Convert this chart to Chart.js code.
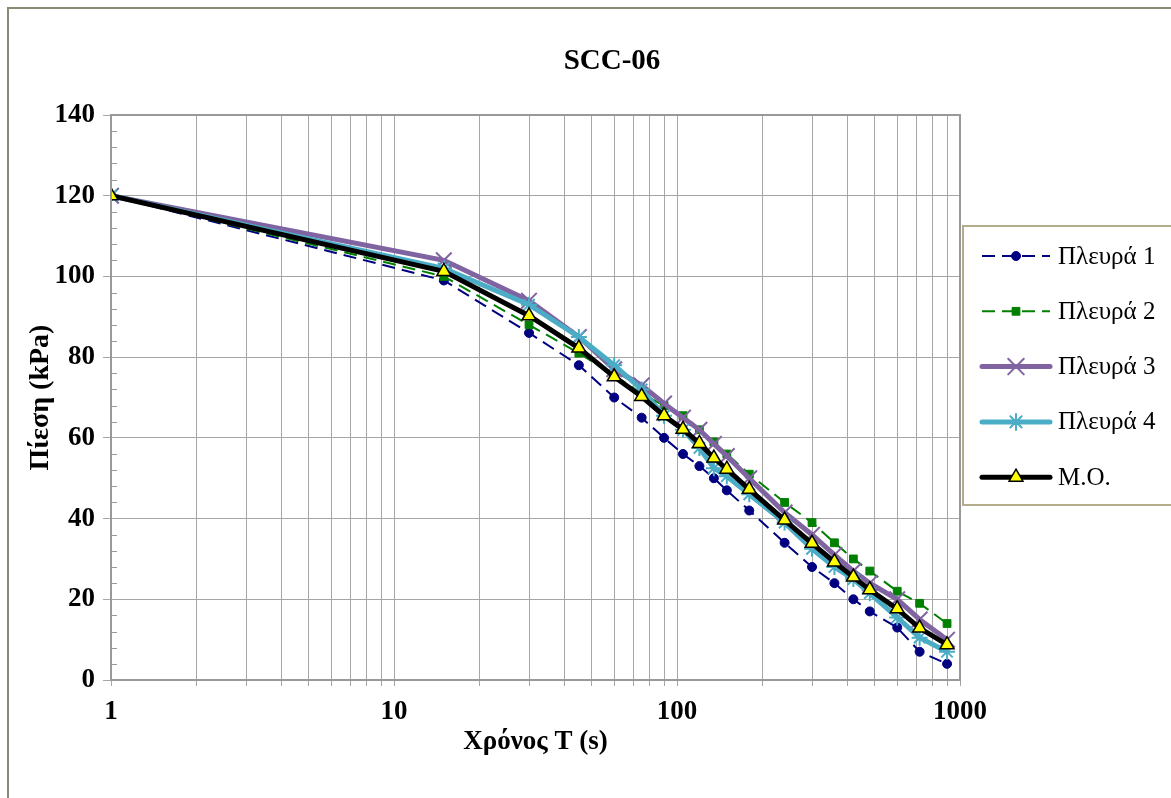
<!DOCTYPE html>
<html>
<head>
<meta charset="utf-8">
<title>SCC-06</title>
<script src="https://cdn.jsdelivr.net/npm/chart.js@4.4.1/dist/chart.umd.min.js"></script>
<style>
  html, body { margin: 0; padding: 0; background: #fff; }
  #wrap { width: 1171px; height: 798px; }
</style>
</head>
<body>
<div id="wrap"><canvas id="pressureChart" width="1171" height="798"></canvas></div>
<script>
// time in seconds and measured pressure (kPa) on each side
const times = [1, 15, 30, 45, 60, 75, 90, 105, 120, 135, 150, 180, 240, 300, 360, 420, 480, 600, 720, 900];
const side1 = [120, 99, 86, 78, 70, 65, 60, 56, 53, 50, 47, 42, 34, 28, 24, 20, 17, 13, 7, 4];
const side2 = [120, 100, 88, 81, 75.5, 71, 68, 65.5, 62, 59, 56, 51, 44, 39, 34, 30, 27, 22, 19, 14];
const side3 = [120, 104, 94, 85, 77, 73, 68.5, 65, 62, 58.5, 55.5, 50, 41.5, 36, 31, 27, 24, 20, 15, 10];
const side4 = [120, 102, 93, 85, 78, 72, 65.5, 62, 57.5, 52.5, 50.5, 46, 39, 32.5, 28, 25, 21.5, 15.5, 10.5, 7];
const average = [120, 101.25, 90.25, 82.25, 75.125, 70.25, 65.5, 62.125, 58.625, 55, 52.25, 47.25, 39.625, 33.875, 29.25, 25.5, 22.375, 17.625, 12.875, 8.75];

const xGridValues = [1, 2, 3, 4, 5, 6, 7, 8, 9, 10, 20, 30, 40, 50, 60, 70, 80, 90, 100, 200, 300, 400, 500, 600, 700, 800, 900, 1000];
const xLabelValues = [1, 10, 100, 1000];
const yTicks = [0, 20, 40, 60, 80, 100, 120, 140];

const serif = '"Liberation Serif", "Times New Roman", serif';

function toPoints(values) {
    return times.map((t, i) => ({ x: t, y: values[i] }));
}

const decorations = {
    id: 'decorations',
    beforeDraw(chart) {
        const ctx = chart.ctx;
        ctx.save();
        ctx.fillStyle = '#ffffff';
        ctx.fillRect(0, 0, chart.width, chart.height);
        // outer frame
        ctx.strokeStyle = '#8a8a76';
        ctx.lineWidth = 2;
        ctx.beginPath();
        ctx.moveTo(8, chart.height + 10);
        ctx.lineTo(8, 8);
        ctx.lineTo(chart.width + 10, 8);
        ctx.stroke();
        // title
        ctx.fillStyle = '#000';
        ctx.font = 'bold 29px ' + serif;
        ctx.textAlign = 'center';
        ctx.textBaseline = 'middle';
        ctx.fillText('SCC-06', 612, 62);
        ctx.restore();
    },
    afterDatasetsDraw(chart) {
        const ctx = chart.ctx;
        const area = chart.chartArea;
        const y = chart.scales.y;
        ctx.save();
        // minor ticks on the pressure axis
        ctx.strokeStyle = '#999';
        ctx.lineWidth = 1;
        ctx.beginPath();
        for (let v = 0; v <= 140; v += 4) {
            if (v % 20 === 0) continue;
            const py = Math.round(y.getPixelForValue(v)) + 0.5;
            ctx.moveTo(area.left, py);
            ctx.lineTo(area.left + 6, py);
        }
        ctx.stroke();
        // plot border
        ctx.strokeStyle = '#999';
        ctx.lineWidth = 2;
        ctx.strokeRect(area.left, area.top, area.right - area.left, area.bottom - area.top);
        ctx.restore();
    },
    afterDraw(chart) {
        const ctx = chart.ctx;
        ctx.save();
        // legend box
        ctx.fillStyle = '#fff';
        ctx.fillRect(963, 226, 220, 279);
        ctx.strokeStyle = '#b4ad8c';
        ctx.lineWidth = 2;
        ctx.strokeRect(963, 226, 220, 279);
        const order = [4, 3, 2, 1, 0];
        order.forEach((di, k) => {
            const ds = chart.data.datasets[di];
            const ly = 256 + k * 55.3;
            ctx.save();
            ctx.strokeStyle = ds.borderColor;
            ctx.lineWidth = ds.borderWidth;
            ctx.lineCap = ds.borderDash ? 'butt' : 'round';
            ctx.setLineDash(ds.borderDash || []);
            ctx.beginPath();
            ctx.moveTo(982, ly);
            ctx.lineTo(1050, ly);
            ctx.stroke();
            ctx.setLineDash([]);
            ctx.fillStyle = ds.pointBackgroundColor;
            ctx.strokeStyle = ds.pointBorderColor;
            ctx.lineWidth = ds.pointBorderWidth;
            Chart.helpers.drawPoint(ctx, {
                pointStyle: ds.pointStyle,
                radius: ds.pointRadius,
                rotation: 0,
                borderWidth: ds.pointBorderWidth
            }, 1016, ly);
            ctx.restore();
            ctx.fillStyle = '#000';
            ctx.font = '25px ' + serif;
            ctx.textAlign = 'left';
            ctx.textBaseline = 'middle';
            ctx.fillText(ds.label, 1058, ly + 1);
        });
        ctx.restore();
    }
};

const ctx = document.getElementById('pressureChart').getContext('2d');
const pressureChart = new Chart(ctx, {
    type: 'line',
    data: {
        datasets: [
            {
                label: 'Μ.Ο.',
                data: toPoints(average),
                order: 0,
                borderColor: '#000000',
                borderWidth: 5,
                pointStyle: 'triangle',
                pointRadius: 8,
                pointBackgroundColor: '#ffff00',
                pointBorderColor: '#000000',
                pointBorderWidth: 1.5
            },
            {
                label: 'Πλευρά 4',
                data: toPoints(side4),
                order: 1,
                borderColor: '#4bacc6',
                borderWidth: 5,
                pointStyle: 'star',
                pointRadius: 8,
                pointBackgroundColor: '#4bacc6',
                pointBorderColor: '#4bacc6',
                pointBorderWidth: 2
            },
            {
                label: 'Πλευρά 3',
                data: toPoints(side3),
                order: 2,
                borderColor: '#8064a2',
                borderWidth: 5,
                pointStyle: 'crossRot',
                pointRadius: 11,
                pointBackgroundColor: '#8064a2',
                pointBorderColor: '#8064a2',
                pointBorderWidth: 2
            },
            {
                label: 'Πλευρά 2',
                data: toPoints(side2),
                order: 3,
                borderColor: '#008000',
                borderWidth: 2,
                borderDash: [13, 7],
                pointStyle: 'rect',
                pointRadius: 5.5,
                pointBackgroundColor: '#008000',
                pointBorderColor: '#008000',
                pointBorderWidth: 1
            },
            {
                label: 'Πλευρά 1',
                data: toPoints(side1),
                order: 4,
                borderColor: '#000080',
                borderWidth: 2,
                borderDash: [13, 7],
                pointStyle: 'circle',
                pointRadius: 4.5,
                pointBackgroundColor: '#000080',
                pointBorderColor: '#000080',
                pointBorderWidth: 1
            }
        ]
    },
    options: {
        responsive: false,
        animation: false,
        devicePixelRatio: 1,
        layout: {
            padding: { left: 10, top: 115, right: 211, bottom: 10 }
        },
        elements: {
            line: { tension: 0, fill: false }
        },
        plugins: {
            legend: { display: false },
            title: { display: false },
            tooltip: { enabled: false }
        },
        scales: {
            x: {
                type: 'logarithmic',
                min: 1,
                max: 1000,
                afterBuildTicks: function(scale) {
                    scale.ticks = xGridValues.map(v => ({ value: v }));
                },
                afterFit: function(scale) {
                    scale.height = 108;
                },
                grid: {
                    color: '#a6a6a6',
                    lineWidth: 1,
                    tickLength: 6
                },
                border: { display: true, color: '#999', width: 2 },
                ticks: {
                    autoSkip: false,
                    maxRotation: 0,
                    padding: 10,
                    color: '#000',
                    font: { family: serif, size: 27, weight: 'bold' },
                    callback: function(value) {
                        return xLabelValues.includes(value) ? String(value) : '';
                    }
                },
                title: {
                    display: true,
                    text: 'Χρόνος Τ (s)',
                    color: '#000',
                    font: { family: serif, size: 27, weight: 'bold' },
                    padding: { top: 0, bottom: 30 }
                }
            },
            y: {
                type: 'linear',
                min: 0,
                max: 140,
                afterBuildTicks: function(scale) {
                    scale.ticks = yTicks.map(v => ({ value: v }));
                },
                afterFit: function(scale) {
                    scale.width = 101;
                },
                grid: {
                    color: '#a6a6a6',
                    lineWidth: 1,
                    tickLength: 8
                },
                border: { display: true, color: '#999', width: 2 },
                ticks: {
                    padding: 8,
                    color: '#000',
                    font: { family: serif, size: 27, weight: 'bold' }
                },
                title: {
                    display: true,
                    text: 'Πίεση (kPa)',
                    color: '#000',
                    font: { family: serif, size: 28, weight: 'bold' },
                    padding: { top: 14, bottom: 0 }
                }
            }
        }
    },
    plugins: [decorations]
});
</script>
</body>
</html>
